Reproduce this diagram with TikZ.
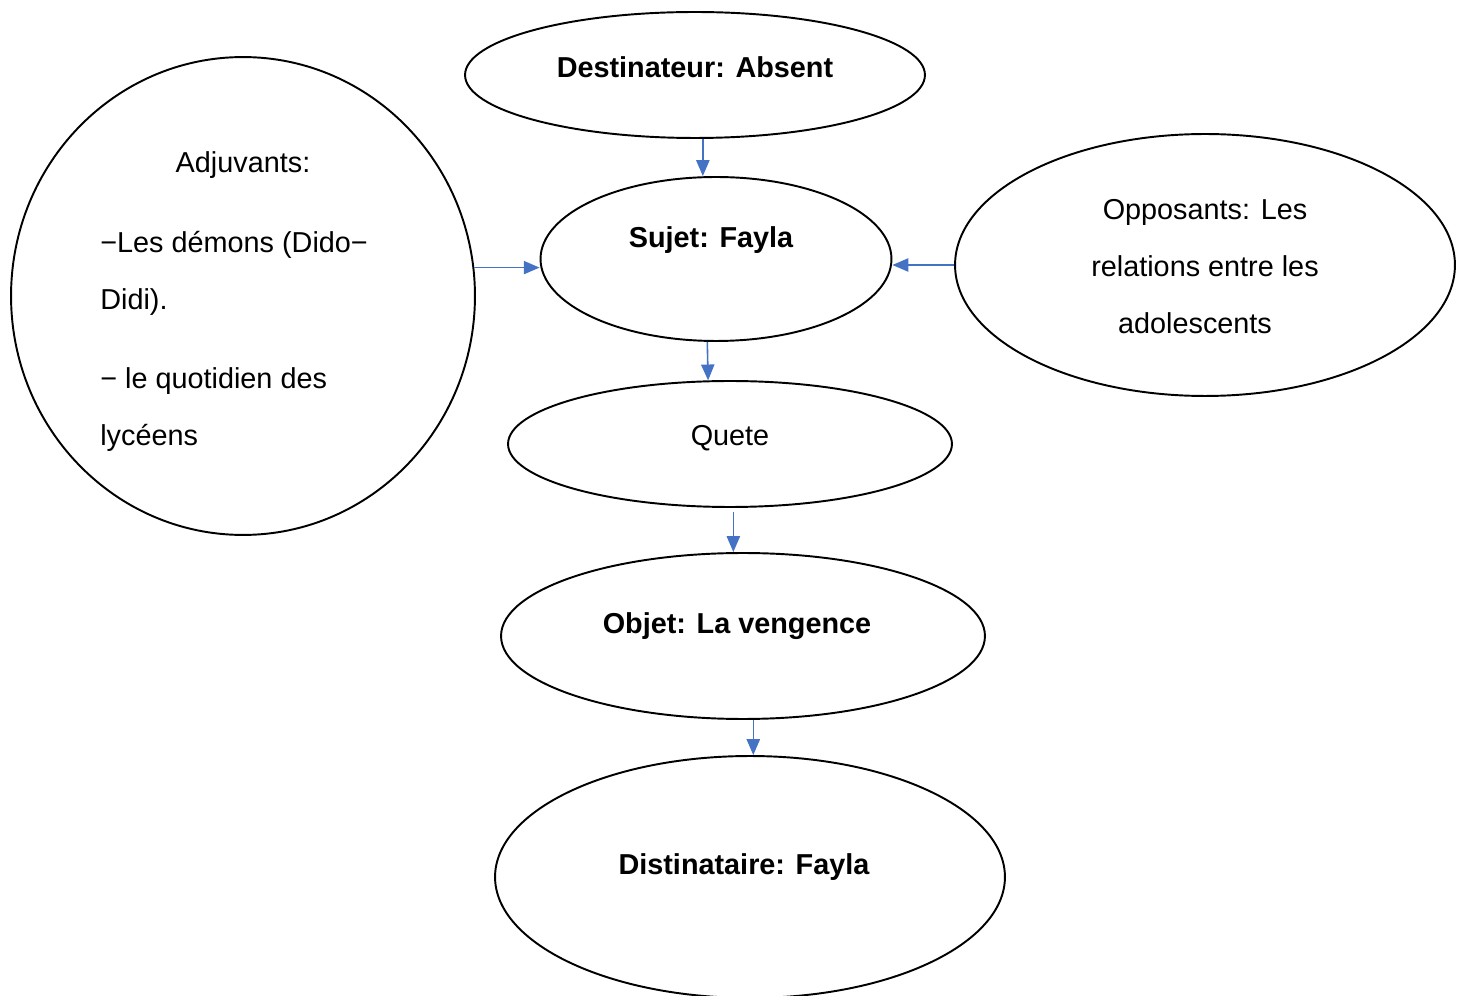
\documentclass[tikz,border=0pt]{standalone}
\usepackage{fontspec}
\setmainfont{Liberation Sans}
\usetikzlibrary{shapes.geometric,arrows.meta}
\definecolor{arrblue}{HTML}{4472C4}
\tikzset{
  oval/.style={draw=black, line width=1.1pt, ellipse, inner sep=0pt},
  lbl/.style={font=\fontsize{16.4pt}{19pt}\selectfont, anchor=base, inner sep=0pt},
  blbl/.style={lbl, font=\fontsize{16.4pt}{19pt}\selectfont\bfseries},
  llbl/.style={lbl, anchor=base west},
  arr/.style={draw=arrblue, line width=0.9pt, -{Triangle[length=9pt,width=7.5pt]}}
}
\begin{document}
\begin{tikzpicture}[x=0.02cm, y=-0.02cm]
\useasboundingbox (0,0) rectangle (1468,996);
% ellipses
\node[oval, minimum width=9.2cm, minimum height=2.52cm] (dest) at (695,75) {};
\node[oval, minimum width=7.02cm, minimum height=3.28cm] (suj) at (716,259) {};
\node[oval, minimum width=9.28cm, minimum height=9.56cm] (adj) at (243,296) {};
\node[oval, minimum width=10cm, minimum height=5.24cm] (opp) at (1205,265) {};
\node[oval, minimum width=8.88cm, minimum height=2.52cm] (que) at (730,444) {};
\node[oval, minimum width=9.68cm, minimum height=3.32cm] (obj) at (743,636) {};
\node[oval, minimum width=10.2cm, minimum height=4.84cm] (dist) at (750,877) {};
% texts
\node[blbl] (tdest) at (695,78) {Destinateur: Absent};
\node[blbl] (tsuj) at (711,248) {Sujet: Fayla};
\node[lbl] (tque) at (730,446) {Quete};
\node[blbl] (tobj) at (737,634) {Objet: La vengence};
\node[blbl] (tdist) at (744,874) {Distinataire: Fayla};
\node[lbl] (topp1) at (1205,220) {Opposants: Les};
\node[lbl] (topp2) at (1205,277) {relations entre les};
\node[lbl] (topp3) at (1195,334) {adolescents};
\node[lbl] (tadj0) at (243,173) {Adjuvants:};
\node[llbl] (tadj1) at (100,253) {−Les démons (Dido−};
\node[llbl] (tadj2) at (100,310) {Didi).};
\node[llbl] (tadj3) at (100,389) {− le quotidien des};
\node[llbl] (tadj4) at (100,446) {lycéens};
% connectors
\draw[arr] (dest.-83) -- (dest.-83 |- suj.north);
\draw[arr] (adj.7.2) -- (adj.7.2 -| suj.west);
\draw[arr] (opp.180.5) -- (opp.180.5 -| suj.east);
\draw[arr] (suj.-96.9) -- (que.109.3);
\draw[arr, shorten <=0.08cm] (que.-87.3) -- (que.-87.3 |- obj.north);
\draw[arr] (obj.-83.8) -- (obj.-83.8 |- dist.north);
\end{tikzpicture}
\end{document}
